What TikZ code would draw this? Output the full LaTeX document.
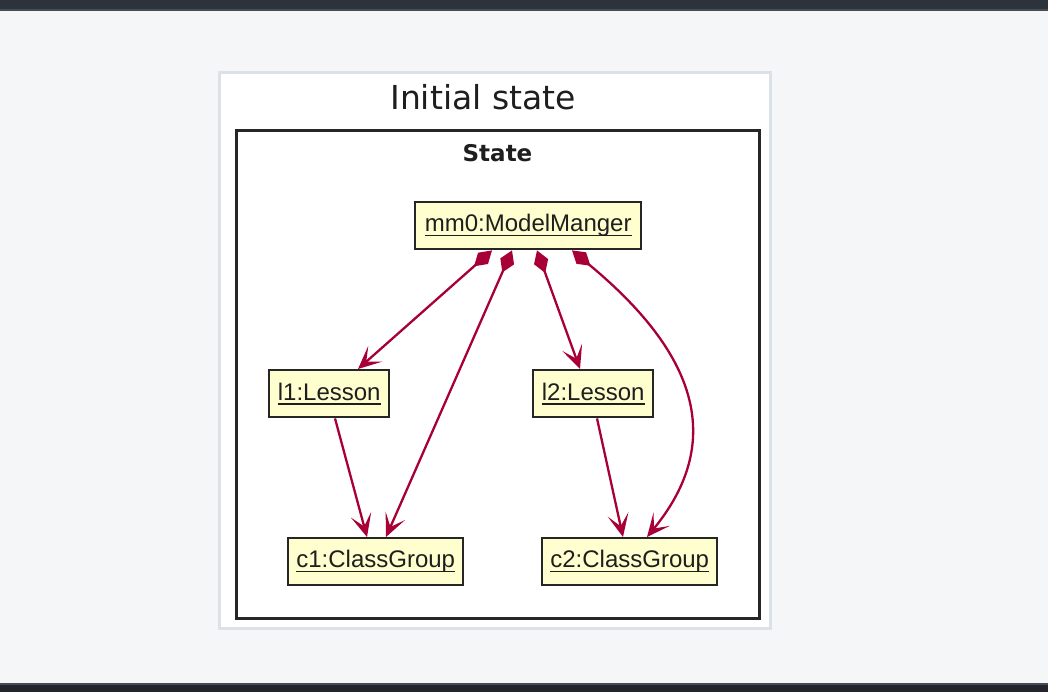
\documentclass[tikz,border=0pt]{standalone}
\usepackage{fontspec}
\setmainfont{Liberation Sans}
\newfontfamily\titlefont{DejaVu Sans}
\usetikzlibrary{arrows.meta,calc}
\definecolor{pagebg}{HTML}{F5F6F8}
\definecolor{barA}{HTML}{2D333B}
\definecolor{barB}{HTML}{454C56}
\definecolor{barC}{HTML}{22252B}
\definecolor{panelline}{HTML}{DCE0E7}
\definecolor{relcol}{HTML}{A80036}
\definecolor{objfill}{HTML}{FEFECE}
\definecolor{objline}{HTML}{262626}
\definecolor{txtcol}{HTML}{1E1E1E}
\newcommand\ulnx[1]{\setbox0\hbox{#1}\rlap{\rule[-4.5pt]{\wd0}{1.8pt}}\box0}
\begin{document}
\begin{tikzpicture}[x=1pt,y=-1pt,
  obj/.style={draw=objline,line width=2.4pt,fill=objfill,inner sep=0pt,text=txtcol,
    font=\fontsize{24}{28}\selectfont,minimum height=47pt,anchor=north west},
  tipend/.style={Stealth[length=23pt,width=21pt,inset=12pt,fill=relcol]},
  rel/.style={draw=relcol,line width=2.3pt,
    {Diamond[length=24pt,width=15pt,fill=relcol]}-{Stealth[length=23pt,width=21pt,inset=12pt,fill=relcol]}},
  dep/.style={draw=relcol,line width=2.3pt,-{Stealth[length=23pt,width=21pt,inset=12pt,fill=relcol]}}]
\useasboundingbox (0,0) rectangle (1048,692);
% page background and bars
\fill[pagebg] (0,0) rectangle (1048,692);
\fill[barA] (0,0) rectangle (1048,9);
\fill[barB] (0,9) rectangle (1048,11);
\fill[barB] (0,683) rectangle (1048,685);
\fill[barC] (0,685) rectangle (1048,692);
% panel
\draw[panelline,line width=3pt,fill=white] (219.5,72.5) rectangle (770.5,628.5);
\node[font=\titlefont\fontsize{33}{38}\selectfont,text=txtcol] (title) at (483,97) {Initial state};
% frame
\draw[objline,line width=3pt] (236,131) rectangle (759,618);
\node[font=\titlefont\bfseries\fontsize{23}{28}\selectfont,text=txtcol] (state) at (497.5,153) {State};
% objects
\node[obj,minimum width=226pt] (mm0) at (414,201) {\ulnx{mm0:ModelManger}};
\node[obj,minimum width=120pt] (l1) at (268,369) {\ulnx{l1:Lesson}};
\node[obj,minimum width=120pt] (l2) at (532,369) {\ulnx{l2:Lesson}};
\node[obj,minimum width=175pt] (c1) at (287,537) {\ulnx{c1:ClassGroup}};
\node[obj,minimum width=175pt] (c2) at (541,537) {\ulnx{c2:ClassGroup}};
% relations
\draw[rel] ($(mm0.south west)+(78,0)$) -- ($(l1.north west)+(90,0)$);
\draw[rel] ($(mm0.south west)+(98,0)$) -- ($(c1.north west)+(99,0)$);
\draw[rel] ($(mm0.south west)+(123,0)$) -- ($(l2.north west)+(48,0)$);
\draw[rel] ($(mm0.south west)+(158,0)$) .. controls (680,340) and (735,430) .. ($(c2.north west)+(106,0)$);
\draw[dep] ($(l1.south west)+(67,0)$) -- ($(c1.north west)+(80,0)$);
\draw[dep] ($(l2.south west)+(65,0)$) -- ($(c2.north west)+(82,0)$);
\end{tikzpicture}
\end{document}
